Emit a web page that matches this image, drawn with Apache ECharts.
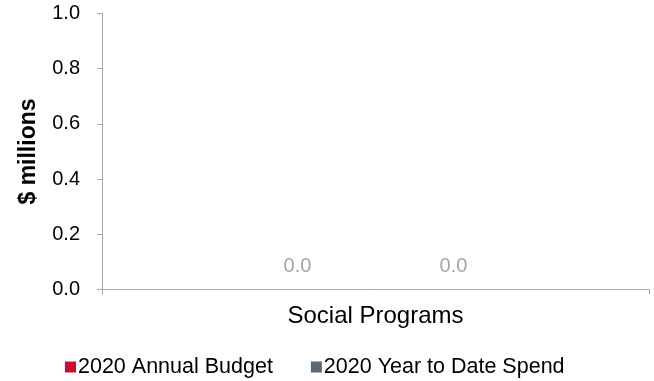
<!DOCTYPE html>
<html>
<head>
<meta charset="utf-8">
<script src="https://cdn.jsdelivr.net/npm/echarts@6/dist/echarts.min.js"></script>
<style>
html,body{margin:0;padding:0;background:#fff;}
#chart{width:654px;height:381px;}
</style>
</head>
<body>
<div id="chart"></div>
<script>
const categories = ['Social Programs'];
const seriesNames = ['2020 Annual Budget', '2020 Year to Date Spend'];
const budgetValues = [0.0];
const spendValues = [0.0];
const yTicks = { min: 0, max: 1, interval: 0.2 };

const FONT = '"Liberation Sans", Arial, sans-serif';
const chart = echarts.init(document.getElementById('chart'), null, { renderer: 'canvas' });

const labelOpt = {
  show: true,
  position: 'top',
  distance: 13,
  color: '#A6A6A6',
  fontFamily: FONT,
  fontSize: 20,
  formatter: p => p.value.toFixed(1)
};

chart.setOption({
  animation: false,
  backgroundColor: '#ffffff',
  color: ['#C8102E', '#5B6770'],
  grid: { left: 102, right: 5, top: 13.5, bottom: 91.5 },
  legend: {
    data: seriesNames,
    left: 60,
    top: 351,
    itemWidth: 11,
    itemHeight: 11,
    itemGap: 38,
    icon: 'rect',
    textStyle: { fontFamily: FONT, fontSize: 21.5, color: '#000', padding: [0, 0, 0, -3] }
  },
  xAxis: {
    type: 'category',
    data: categories,
    axisLine: { show: true, lineStyle: { color: '#A6A6A6', width: 1 } },
    axisTick: { show: true, length: 5, lineStyle: { color: '#A6A6A6' } },
    axisLabel: { fontFamily: FONT, fontSize: 24, color: '#000', margin: 15 }
  },
  yAxis: {
    type: 'value',
    min: yTicks.min,
    max: yTicks.max,
    interval: yTicks.interval,
    name: '$ millions',
    nameLocation: 'middle',
    nameGap: 62,
    nameTextStyle: { fontFamily: FONT, fontSize: 23, fontWeight: 'bold', color: '#000' },
    axisLine: { show: true, lineStyle: { color: '#A6A6A6', width: 1 } },
    axisTick: { show: true, length: 5, lineStyle: { color: '#A6A6A6' } },
    splitLine: { show: false },
    axisLabel: { fontFamily: FONT, fontSize: 20, color: '#000', margin: 22, formatter: v => v.toFixed(1) }
  },
  series: [
    { name: seriesNames[0], type: 'bar', data: budgetValues, barWidth: 120, barGap: '30%', label: labelOpt },
    { name: seriesNames[1], type: 'bar', data: spendValues, barWidth: 120, barGap: '30%', label: labelOpt }
  ]
});
</script>
</body>
</html>
